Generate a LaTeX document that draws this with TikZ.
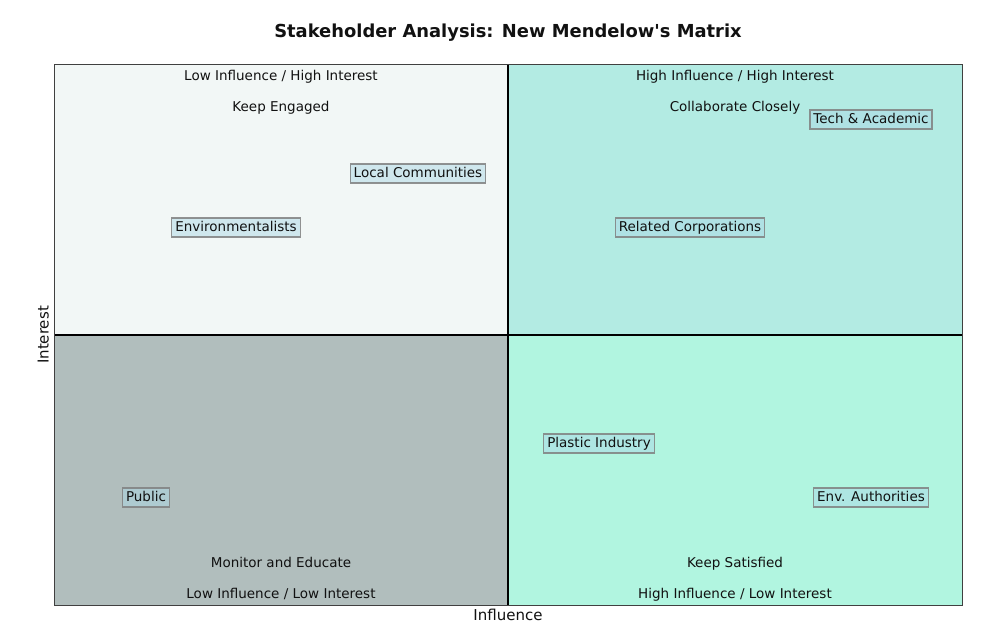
\documentclass[tikz,border=0pt]{standalone}
\usepackage{fontspec}
\setmainfont{DejaVu Sans}[Ligatures=TeXOff]
\definecolor{qTL}{HTML}{F2F7F6}
\definecolor{qTR}{HTML}{B3EBE3}
\definecolor{qBL}{HTML}{B1BEBD}
\definecolor{qBR}{HTML}{B1F5E0}
\definecolor{boxfill}{HTML}{ADD8E6}
\definecolor{textc}{HTML}{111111}
\tikzset{
  lbl/.style={font=\fontsize{13.5}{14}\selectfont, text=textc, inner sep=0pt, anchor=center, text height=10pt, text depth=3pt},
  stake/.style={lbl, fill=boxfill, fill opacity=0.5, text opacity=1, draw=gray, draw opacity=0.85, line width=1.3pt, inner xsep=3.5pt, inner ysep=3pt},
}
\begin{document}
\begin{tikzpicture}[x=1pt,y=-1pt]
\useasboundingbox (0,0) rectangle (984,622);
\fill[white] (0,0) rectangle (984,622);
% quadrants
\fill[qTL] (54,64) rectangle (508,335);
\fill[qTR] (508,64) rectangle (962,335);
\fill[qBL] (54,335) rectangle (508,605);
\fill[qBR] (508,335) rectangle (962,605);
\draw[black, line width=1.5pt] (508,64) -- (508,605);
\draw[black, line width=1.5pt] (54,335) -- (962,335);
\draw[black!75, line width=1pt] (54,64) rectangle (962,605);
% title
\node[lbl, font=\bfseries\fontsize{17.9}{20}\selectfont, text height=13pt, text depth=4pt] (title) at (508,32.5) {Stakeholder Analysis: New Mendelow's Matrix};
% quadrant labels
\node[lbl] (tlh) at (281,77) {Low Influence / High Interest};
\node[lbl] (tls) at (281,108) {Keep Engaged};
\node[lbl] (trh) at (735,77) {High Influence / High Interest};
\node[lbl] (trs) at (735,108) {Collaborate Closely};
\node[lbl] (bls) at (281,564) {Monitor and Educate};
\node[lbl] (blh) at (281,595) {Low Influence / Low Interest};
\node[lbl] (brs) at (735,564) {Keep Satisfied};
\node[lbl] (brh) at (735,595) {High Influence / Low Interest};
% axes labels
\node[lbl, font=\fontsize{15}{16}\selectfont, rotate=90, text height=11pt, text depth=0pt] (ylab) at (43,335) {Interest};
\node[lbl, font=\fontsize{15}{16}\selectfont, anchor=north, text height=11pt, text depth=3pt] (xlab) at (508,609.5) {Influence};
% stakeholders
\node[stake] (tech) at (871,119.5) {Tech \& Academic};
\node[stake] (local) at (418,173.5) {Local Communities};
\node[stake] (env) at (236,227.5) {Environmentalists};
\node[stake] (corp) at (690,227.5) {Related Corporations};
\node[stake] (plastic) at (599,443.5) {Plastic Industry};
\node[stake] (public) at (146,497.5) {Public};
\node[stake] (auth) at (871,497.5) {Env. Authorities};
\end{tikzpicture}
\end{document}
